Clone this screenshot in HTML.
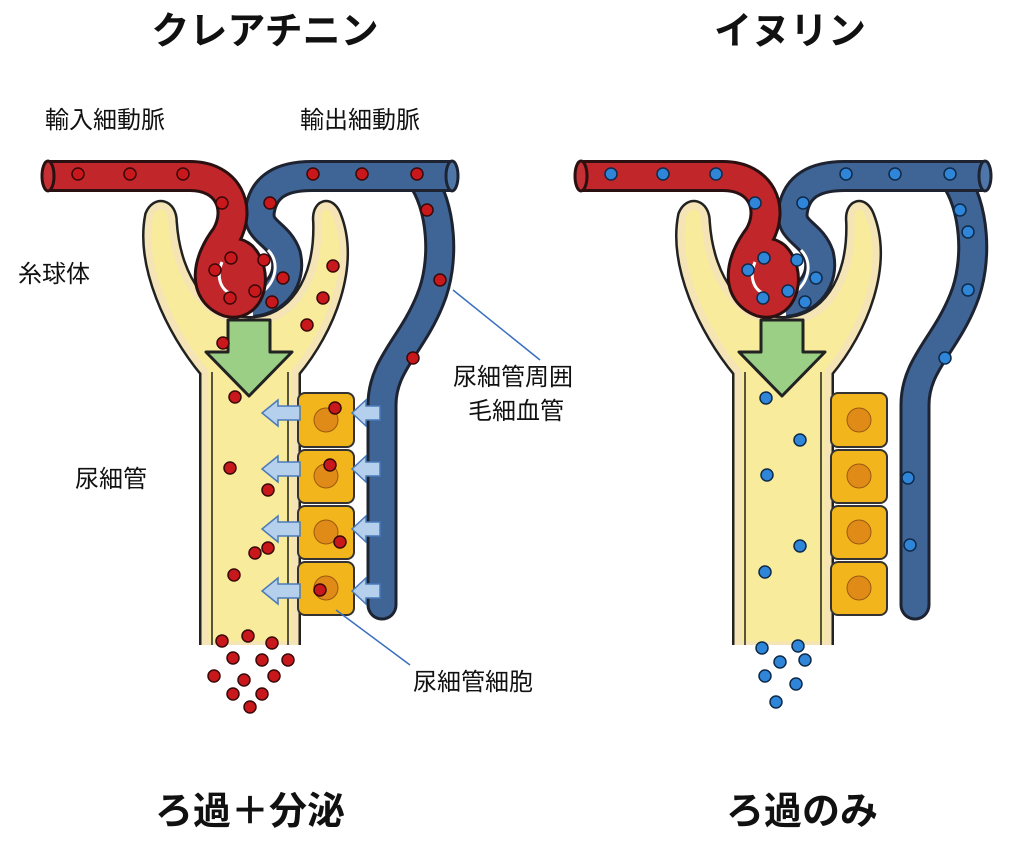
<!DOCTYPE html><html><head><meta charset="utf-8"><style>
html,body{margin:0;padding:0;background:#fff;}
svg text{font-family:"Liberation Sans","Noto Sans CJK JP",sans-serif;fill:#111;}
</style></head><body>
<svg width="1024" height="863" viewBox="0 0 1024 863" xmlns="http://www.w3.org/2000/svg">
<defs>
<g id="base">
  <path d="M150,215 C140,265 170,330 205,372 L205,645 L295,645 L295,372 C330,330 356,265 336,215 C330,200 316,204 318,222 C320,282 292,322 250,322 C208,322 176,282 172,222 C172,204 156,200 150,215 Z" fill="#f8ec9c" stroke="#222" stroke-width="12" stroke-linejoin="round"/>
  <path d="M150,215 C140,265 170,330 205,372 L205,645 L295,645 L295,372 C330,330 356,265 336,215 C330,200 316,204 318,222 C320,282 292,322 250,322 C208,322 176,282 172,222 C172,204 156,200 150,215 Z" fill="#f8ec9c" stroke="#f4e4b6" stroke-width="7" stroke-linejoin="round"/>
  <path d="M212,372 L212,648 M288,372 L288,648" stroke="#222" stroke-width="1.5" fill="none"/>
  <rect x="196" y="645" width="108" height="20" fill="#fff"/>
  <path d="M420,176 C442,205 446,262 430,300 C412,345 382,365 382,405 L382,605" fill="none" stroke="#1d2330" stroke-width="31" stroke-linecap="round"/>
  <path d="M420,176 C442,205 446,262 430,300 C412,345 382,365 382,405 L382,605" fill="none" stroke="#3f6496" stroke-width="25" stroke-linecap="round"/>
  <path d="M252,302 C275,300 292,280 286,255 C278,232 256,232 260,210 C264,186 282,176 312,176 L452,176" fill="none" stroke="#1d2330" stroke-width="32"/>
  <path d="M252,302 C275,300 292,280 286,255 C278,232 256,232 260,210 C264,186 282,176 312,176 L452,176" fill="none" stroke="#3f6496" stroke-width="26"/>
  <path d="M262,292 C276,282 280,262 268,250" fill="none" stroke="#fff" stroke-width="3"/>
  <ellipse cx="452" cy="176" rx="6" ry="15" fill="#4f76a8" stroke="#1d2330" stroke-width="3"/>
  <path d="M48,176 L190,176 C228,176 242,208 226,236 C206,262 202,292 228,302 C252,308 258,272 242,256 C226,244 214,270 236,288" fill="none" stroke="#2a1010" stroke-width="32" stroke-linejoin="round"/>
  <path d="M48,176 L190,176 C228,176 242,208 226,236 C206,262 202,292 228,302 C252,308 258,272 242,256 C226,244 214,270 236,288" fill="none" stroke="#c0262a" stroke-width="26" stroke-linejoin="round"/>
  <path d="M222,262 C216,276 220,290 232,294" fill="none" stroke="#fff" stroke-width="3"/>
  <ellipse cx="48" cy="176" rx="6" ry="15" fill="#c43034" stroke="#2a1010" stroke-width="3"/>
  <path d="M228,320 L270,320 L270,352 L292,352 L249,396 L206,352 L228,352 Z" fill="#9bcf86" stroke="#222" stroke-width="3" stroke-linejoin="round"/>
  <g fill="#f2b61c" stroke="#333" stroke-width="2">
    <rect x="298" y="393" width="56" height="54" rx="7"/>
    <rect x="298" y="450" width="56" height="53" rx="7"/>
    <rect x="298" y="506" width="56" height="53" rx="7"/>
    <rect x="298" y="562" width="56" height="53" rx="7"/>
  </g>
  <g fill="#e08a18" stroke="#9a5a10" stroke-width="1">
    <circle cx="326" cy="420" r="12"/><circle cx="326" cy="476" r="12"/><circle cx="326" cy="532" r="12"/><circle cx="326" cy="588" r="12"/>
  </g>
</g>
</defs>

<text x="265" y="44" font-size="38" font-weight="bold" text-anchor="middle">クレアチニン</text>
<text x="790" y="44" font-size="38" font-weight="bold" text-anchor="middle">イヌリン</text>
<text x="250" y="824" font-size="38" font-weight="bold" text-anchor="middle">ろ過＋分泌</text>
<text x="802" y="824" font-size="38" font-weight="bold" text-anchor="middle">ろ過のみ</text>

<text x="45" y="128" font-size="24">輸入細動脈</text>
<text x="300" y="128" font-size="24">輸出細動脈</text>
<text x="18" y="282" font-size="24">糸球体</text>
<text x="75" y="487" font-size="24">尿細管</text>
<text x="453" y="385" font-size="24">尿細管周囲</text>
<text x="468" y="419" font-size="24">毛細血管</text>
<text x="413" y="690" font-size="24">尿細管細胞</text>

<use href="#base"/>
<use href="#base" transform="translate(533,0)"/>

<line x1="453" y1="290" x2="540" y2="360" stroke="#3a6fc0" stroke-width="1.5"/>
<line x1="336" y1="610" x2="410" y2="665" stroke="#3a6fc0" stroke-width="1.5"/>

<g fill="#b5d0ec" stroke="#4a7ab8" stroke-width="1.5">
  <path d="M300,406 L278,406 L278,400 L262,413 L278,426 L278,420 L300,420 Z"/>
  <path d="M300,462 L278,462 L278,456 L262,469 L278,482 L278,476 L300,476 Z"/>
  <path d="M300,522 L278,522 L278,516 L262,529 L278,542 L278,536 L300,536 Z"/>
  <path d="M300,584 L278,584 L278,578 L262,591 L278,604 L278,598 L300,598 Z"/>
  <path d="M380,406 L366,406 L366,400 L352,413 L366,426 L366,420 L380,420 Z"/>
  <path d="M380,462 L366,462 L366,456 L352,469 L366,482 L366,476 L380,476 Z"/>
  <path d="M380,522 L366,522 L366,516 L352,529 L366,542 L366,536 L380,536 Z"/>
  <path d="M380,584 L366,584 L366,578 L352,591 L366,604 L366,598 L380,598 Z"/>
</g>

<g fill="#c8181c" stroke="#3a0808" stroke-width="1.5">
<circle cx="78" cy="174" r="6"/><circle cx="130" cy="174" r="6"/><circle cx="183" cy="174" r="6"/><circle cx="222" cy="203" r="6"/>
<circle cx="270" cy="203" r="6"/><circle cx="313" cy="174" r="6"/><circle cx="362" cy="174" r="6"/><circle cx="417" cy="174" r="6"/>
<circle cx="427" cy="210" r="6"/><circle cx="440" cy="280" r="6"/><circle cx="413" cy="358" r="6"/>
<circle cx="231" cy="258" r="6"/><circle cx="215" cy="270" r="6"/><circle cx="264" cy="260" r="6"/><circle cx="283" cy="278" r="6"/>
<circle cx="230" cy="298" r="6"/><circle cx="255" cy="291" r="6"/><circle cx="272" cy="302" r="6"/>
<circle cx="333" cy="266" r="6"/><circle cx="323" cy="298" r="6"/><circle cx="307" cy="325" r="6"/><circle cx="223" cy="343" r="6"/>
<circle cx="235" cy="397" r="6"/><circle cx="230" cy="468" r="6"/><circle cx="268" cy="490" r="6"/><circle cx="255" cy="553" r="6"/><circle cx="234" cy="575" r="6"/><circle cx="268" cy="548" r="6"/>
<circle cx="335" cy="408" r="6"/><circle cx="330" cy="465" r="6"/><circle cx="340" cy="542" r="6"/><circle cx="320" cy="590" r="6"/>
<circle cx="222" cy="641" r="6"/><circle cx="248" cy="636" r="6"/><circle cx="272" cy="643" r="6"/><circle cx="233" cy="658" r="6"/>
<circle cx="262" cy="660" r="6"/><circle cx="288" cy="660" r="6"/><circle cx="214" cy="676" r="6"/><circle cx="244" cy="680" r="6"/>
<circle cx="274" cy="676" r="6"/><circle cx="233" cy="694" r="6"/><circle cx="262" cy="694" r="6"/><circle cx="250" cy="707" r="6"/>
</g>

<g fill="#2f86d8" stroke="#0e2a4a" stroke-width="1.5">
<circle cx="611" cy="174" r="6"/><circle cx="663" cy="174" r="6"/><circle cx="716" cy="174" r="6"/><circle cx="755" cy="203" r="6"/>
<circle cx="803" cy="203" r="6"/><circle cx="846" cy="174" r="6"/><circle cx="895" cy="174" r="6"/><circle cx="950" cy="174" r="6"/>
<circle cx="960" cy="210" r="6"/><circle cx="968" cy="232" r="6"/><circle cx="968" cy="290" r="6"/><circle cx="945" cy="358" r="6"/>
<circle cx="764" cy="258" r="6"/><circle cx="748" cy="270" r="6"/><circle cx="797" cy="260" r="6"/><circle cx="816" cy="278" r="6"/>
<circle cx="763" cy="298" r="6"/><circle cx="788" cy="291" r="6"/><circle cx="805" cy="302" r="6"/>
<circle cx="766" cy="398" r="6"/><circle cx="800" cy="440" r="6"/><circle cx="767" cy="475" r="6"/><circle cx="800" cy="546" r="6"/><circle cx="765" cy="572" r="6"/>
<circle cx="908" cy="478" r="6"/><circle cx="910" cy="545" r="6"/>
<circle cx="762" cy="648" r="6"/><circle cx="798" cy="646" r="6"/><circle cx="780" cy="662" r="6"/><circle cx="805" cy="660" r="6"/>
<circle cx="765" cy="676" r="6"/><circle cx="796" cy="684" r="6"/><circle cx="776" cy="702" r="6"/>
</g>
</svg>
</body></html>
